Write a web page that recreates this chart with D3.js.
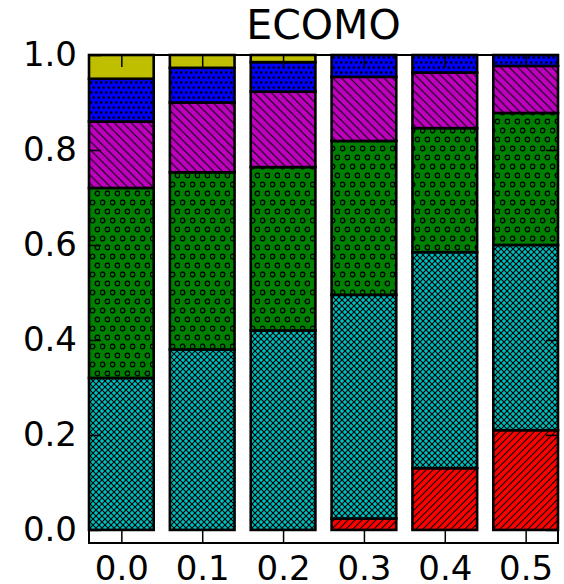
<!DOCTYPE html>
<html>
<head>
<meta charset="utf-8">
<script src="https://cdn.jsdelivr.net/npm/d3@7"></script>
<style>
  body { margin: 0; background: #fff; }
  svg { display: block; font-family: "DejaVu Sans", sans-serif; }
</style>
</head>
<body>
<svg id="chart"></svg>
<script>
// Valores (cada barra soma 1)
const categories = ["0.0", "0.1", "0.2", "0.3", "0.4", "0.5"];
const red     = [0.000, 0.000, 0.000, 0.024, 0.130, 0.210];
const cyan    = [0.320, 0.380, 0.420, 0.471, 0.455, 0.390];
const green   = [0.400, 0.373, 0.344, 0.324, 0.261, 0.278];
const magenta = [0.140, 0.147, 0.159, 0.135, 0.117, 0.099];
const blue    = [0.090, 0.073, 0.062, 0.046, 0.037, 0.023];
const yellow  = [0.050, 0.027, 0.015, 0.000, 0.000, 0.000];
const yTicks = [0, 0.2, 0.4, 0.6, 0.8, 1.0];

const series = [
  { key: "red", values: red, color: "#ff0000", hatch: "slash" },
  { key: "cyan", values: cyan, color: "#00bfbf", hatch: "cross" },
  { key: "green", values: green, color: "#008000", hatch: "circles" },
  { key: "magenta", values: magenta, color: "#bf00bf", hatch: "backslash" },
  { key: "blue", values: blue, color: "#0000ff", hatch: "dots" },
  { key: "yellow", values: yellow, color: "#bfbf00", hatch: null }
];

const width = 564;
const height = 584;
const frame = { left: 89, right: 558, top: 55, bottom: 543 };

const svg = d3.select("#chart")
  .attr("width", width)
  .attr("height", height);

// Padrões de hachura
const defs = svg.append("defs");

function linePattern(id, size, paths) {
  const p = defs.append("pattern")
    .attr("id", id)
    .attr("patternUnits", "userSpaceOnUse")
    .attr("width", size)
    .attr("height", size);
  paths.forEach(d => {
    p.append("path")
      .attr("d", d)
      .attr("stroke", "#000")
      .attr("stroke-width", 1.1)
      .attr("fill", "none");
  });
}

const s1 = 7;
linePattern("slash", s1, [
  `M0,${s1} L${s1},0 M-1,1 L1,-1 M${s1 - 1},${s1 + 1} L${s1 + 1},${s1 - 1}`
]);
const s2 = 8.5;
linePattern("backslash", s2, [
  `M0,0 L${s2},${s2} M-1,${s2 - 1} L1,${s2 + 1} M${s2 - 1},-1 L${s2 + 1},1`
]);
const s3 = 6;
linePattern("cross", s3, [
  `M0,${s3} L${s3},0 M-1,1 L1,-1 M${s3 - 1},${s3 + 1} L${s3 + 1},${s3 - 1}`,
  `M0,0 L${s3},${s3} M-1,${s3 - 1} L1,${s3 + 1} M${s3 - 1},-1 L${s3 + 1},1`
]);

const circ = defs.append("pattern")
  .attr("id", "circles")
  .attr("patternUnits", "userSpaceOnUse")
  .attr("width", 10)
  .attr("height", 18);
[[2.5, 4.5], [7.5, 13.5]].forEach(([cx, cy]) => {
  circ.append("circle")
    .attr("cx", cx).attr("cy", cy).attr("r", 2.3)
    .attr("fill", "none").attr("stroke", "#000").attr("stroke-width", 1.3);
});

const dots = defs.append("pattern")
  .attr("id", "dots")
  .attr("patternUnits", "userSpaceOnUse")
  .attr("width", 5)
  .attr("height", 10);
[[1.25, 2.5], [3.75, 7.5]].forEach(([cx, cy]) => {
  dots.append("circle")
    .attr("cx", cx).attr("cy", cy).attr("r", 1.3)
    .attr("fill", "#000");
});

// Escalas
const x = d3.scaleLinear()
  .domain([-0.4, 5.4])
  .range([frame.left, frame.right]);

const y = d3.scaleLinear()
  .domain([-0.0275, 1])
  .range([frame.bottom, frame.top]);

const barWidth = 0.8;

// Empilhamento
const table = categories.map((c, i) => {
  const row = { cat: c, i: i };
  series.forEach(s => { row[s.key] = s.values[i]; });
  return row;
});
const stacked = d3.stack().keys(series.map(s => s.key))(table);

const g = svg.append("g");

stacked.forEach((layer, li) => {
  const s = series[li];
  const segs = layer.filter(d => d[1] - d[0] > 0.0005);
  const grp = g.append("g");
  grp.selectAll("rect.fill")
    .data(segs)
    .enter()
    .append("rect")
    .attr("x", d => x(d.data.i - barWidth / 2))
    .attr("y", d => y(d[1]))
    .attr("width", x(barWidth) - x(0))
    .attr("height", d => y(d[0]) - y(d[1]))
    .attr("fill", s.color);
  if (s.hatch) {
    grp.selectAll("rect.hatch")
      .data(segs)
      .enter()
      .append("rect")
      .attr("x", d => x(d.data.i - barWidth / 2))
      .attr("y", d => y(d[1]))
      .attr("width", x(barWidth) - x(0))
      .attr("height", d => y(d[0]) - y(d[1]))
      .attr("fill", `url(#${s.hatch})`);
  }
  grp.selectAll("rect.edge")
    .data(segs)
    .enter()
    .append("rect")
    .attr("x", d => x(d.data.i - barWidth / 2))
    .attr("y", d => y(d[1]))
    .attr("width", x(barWidth) - x(0))
    .attr("height", d => y(d[0]) - y(d[1]))
    .attr("fill", "none")
    .attr("stroke", "#000")
    .attr("stroke-width", 2.6);
});

// Eixos
const tickFont = 34;

const axisL = svg.append("g")
  .attr("transform", `translate(${frame.left},0)`)
  .call(d3.axisLeft(y).tickValues(yTicks).tickFormat(d3.format(".1f"))
    .tickSize(-12).tickPadding(12));

const axisR = svg.append("g")
  .attr("transform", `translate(${frame.right},0)`)
  .call(d3.axisRight(y).tickValues(yTicks).tickFormat("").tickSize(-12));

const axisB = svg.append("g")
  .attr("transform", `translate(0,${frame.bottom})`)
  .call(d3.axisBottom(x).tickValues(d3.range(categories.length))
    .tickFormat(i => categories[i]).tickSize(-12).tickPadding(13));

const axisT = svg.append("g")
  .attr("transform", `translate(0,${frame.top})`)
  .call(d3.axisTop(x).tickValues(d3.range(categories.length))
    .tickFormat("").tickSize(-12));

[axisL, axisR, axisB, axisT].forEach(a => {
  a.select(".domain").remove();
  a.selectAll(".tick line").attr("stroke", "#000").attr("stroke-width", 1.5);
  a.selectAll(".tick text")
    .attr("font-family", "DejaVu Sans, sans-serif")
    .attr("font-size", tickFont)
    .attr("fill", "#000");
});

// Moldura
svg.append("rect")
  .attr("x", frame.left)
  .attr("y", frame.top)
  .attr("width", frame.right - frame.left)
  .attr("height", frame.bottom - frame.top)
  .attr("fill", "none")
  .attr("stroke", "#000")
  .attr("stroke-width", 2);

// Título
svg.append("text")
  .attr("x", (frame.left + frame.right) / 2)
  .attr("y", 39)
  .attr("text-anchor", "middle")
  .attr("font-size", 41)
  .attr("fill", "#000")
  .text("ECOMO");
</script>
</body>
</html>
